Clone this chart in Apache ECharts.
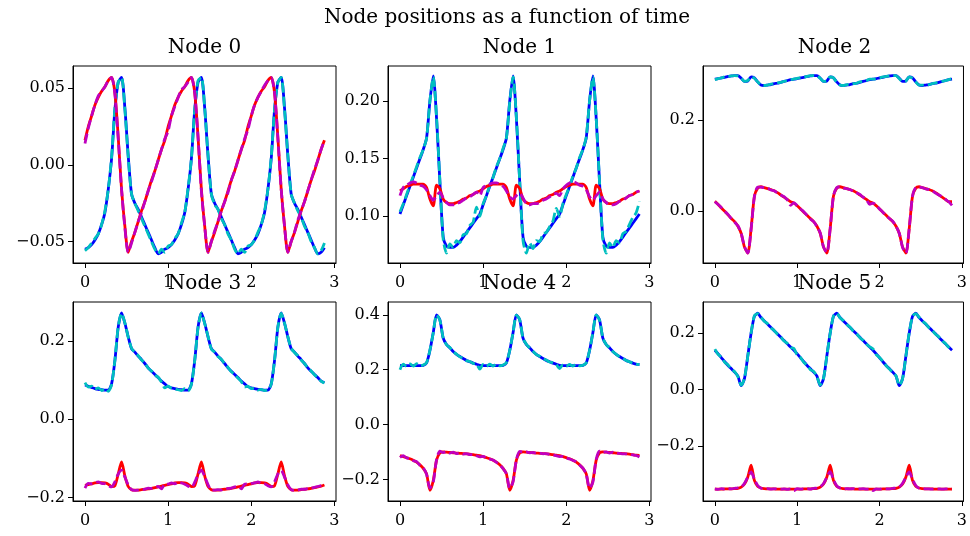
<!DOCTYPE html>
<html>
<head>
<meta charset="utf-8">
<script src="https://cdn.jsdelivr.net/npm/echarts@6/dist/echarts.min.js"></script>
<style>
html, body { margin: 0; padding: 0; background: #fff; }
#chart { width: 970px; height: 536px; }
</style>
</head>
<body>
<div id="chart"></div>
<script>
// time samples (s)
const t = [0,0.04,0.08,0.12,0.16,0.2,0.24,0.28,0.32,0.36,0.4,0.44,0.48,0.52,0.56,0.6,0.64,0.68,0.72,0.76,0.8,0.84,0.88,0.92,
  0.96,1,1.04,1.08,1.12,1.16,1.2,1.24,1.28,1.32,1.36,1.4,1.44,1.48,1.52,1.56,1.6,1.64,1.68,1.72,1.76,1.8,1.84,1.88,
  1.92,1.96,2,2.04,2.08,2.12,2.16,2.2,2.24,2.28,2.32,2.36,2.4,2.44,2.48,2.52,2.56,2.6,2.64,2.68,2.72,2.76,2.8,2.84,
  2.88];

// Node 0
const x0 = [-0.055,-0.054,-0.052,-0.049,-0.045,-0.039,-0.031,-0.016,0.004,0.036,0.054,0.057,0.037,0.006,-0.019,-0.025,-0.029,-0.034,-0.039,-0.044,-0.049,-0.054,-0.058,-0.057,
  -0.055,-0.054,-0.052,-0.049,-0.045,-0.039,-0.031,-0.016,0.004,0.036,0.054,0.057,0.037,0.006,-0.019,-0.025,-0.029,-0.034,-0.039,-0.044,-0.049,-0.054,-0.058,-0.057,
  -0.055,-0.054,-0.052,-0.049,-0.045,-0.039,-0.031,-0.016,0.004,0.036,0.054,0.057,0.037,0.006,-0.019,-0.025,-0.029,-0.034,-0.039,-0.044,-0.049,-0.054,-0.058,-0.057,
  -0.054];
const cx0 = [-0.056,-0.054,-0.051,-0.048,-0.045,-0.039,-0.030,-0.016,0.005,0.037,0.054,0.057,0.036,0.005,-0.019,-0.025,-0.030,-0.035,-0.040,-0.045,-0.050,-0.055,-0.058,-0.055,
  -0.057,-0.053,-0.052,-0.048,-0.045,-0.038,-0.031,-0.015,0.004,0.036,0.055,0.057,0.037,0.006,-0.019,-0.026,-0.029,-0.035,-0.039,-0.045,-0.049,-0.055,-0.058,-0.055,
  -0.057,-0.053,-0.052,-0.049,-0.044,-0.039,-0.030,-0.016,0.005,0.036,0.054,0.057,0.036,0.006,-0.019,-0.025,-0.030,-0.034,-0.040,-0.044,-0.050,-0.054,-0.058,-0.056,
  -0.051];
const y0 = [0.016,0.025,0.032,0.039,0.044,0.048,0.051,0.055,0.057,0.047,0.018,-0.016,-0.040,-0.057,-0.050,-0.044,-0.037,-0.030,-0.024,-0.017,-0.010,-0.004,0.003,0.010,
  0.016,0.025,0.032,0.039,0.044,0.048,0.051,0.055,0.057,0.047,0.018,-0.016,-0.040,-0.057,-0.050,-0.044,-0.037,-0.030,-0.024,-0.017,-0.010,-0.004,0.003,0.010,
  0.016,0.025,0.032,0.039,0.044,0.048,0.051,0.055,0.057,0.047,0.018,-0.016,-0.040,-0.057,-0.050,-0.044,-0.037,-0.030,-0.024,-0.017,-0.010,-0.004,0.003,0.010,
  0.016];
const my0 = [0.014,0.024,0.032,0.039,0.045,0.048,0.051,0.055,0.057,0.046,0.017,-0.016,-0.041,-0.057,-0.051,-0.044,-0.037,-0.031,-0.024,-0.017,-0.011,-0.004,0.003,0.010,
  0.017,0.022,0.032,0.038,0.044,0.049,0.051,0.054,0.057,0.047,0.018,-0.017,-0.040,-0.057,-0.050,-0.043,-0.037,-0.030,-0.024,-0.018,-0.010,-0.004,0.003,0.010,
  0.017,0.023,0.032,0.039,0.044,0.048,0.052,0.055,0.057,0.047,0.017,-0.016,-0.040,-0.057,-0.050,-0.044,-0.036,-0.030,-0.024,-0.017,-0.010,-0.003,0.003,0.010,
  0.016];

// Node 1
const x1 = [0.102,0.110,0.118,0.126,0.134,0.142,0.150,0.158,0.168,0.200,0.222,0.185,0.130,0.082,0.074,0.073,0.073,0.075,0.078,0.082,0.086,0.090,0.094,0.098,
  0.102,0.110,0.118,0.126,0.134,0.142,0.150,0.158,0.168,0.200,0.222,0.185,0.130,0.082,0.074,0.073,0.073,0.075,0.078,0.082,0.086,0.090,0.094,0.098,
  0.102,0.110,0.118,0.126,0.134,0.142,0.150,0.158,0.168,0.200,0.222,0.185,0.130,0.082,0.074,0.073,0.073,0.075,0.078,0.082,0.086,0.090,0.094,0.098,
  0.102];
const cx1 = [0.104,0.111,0.119,0.127,0.135,0.143,0.151,0.158,0.168,0.200,0.221,0.186,0.131,0.080,0.068,0.076,0.073,0.079,0.077,0.084,0.085,0.092,0.095,0.108,
  0.100,0.111,0.118,0.127,0.134,0.143,0.150,0.159,0.168,0.199,0.221,0.186,0.131,0.079,0.068,0.077,0.072,0.079,0.078,0.085,0.086,0.091,0.096,0.107,
  0.100,0.111,0.119,0.126,0.135,0.142,0.151,0.158,0.169,0.200,0.221,0.185,0.130,0.080,0.068,0.077,0.073,0.079,0.077,0.085,0.087,0.093,0.099,0.103,
  0.113];
const y1 = [0.122,0.124,0.126,0.127,0.128,0.128,0.128,0.128,0.125,0.115,0.109,0.127,0.124,0.115,0.112,0.111,0.111,0.112,0.113,0.115,0.116,0.118,0.119,0.121,
  0.122,0.124,0.126,0.127,0.128,0.128,0.128,0.128,0.125,0.115,0.109,0.127,0.124,0.115,0.112,0.111,0.111,0.112,0.113,0.115,0.116,0.118,0.119,0.121,
  0.122,0.124,0.126,0.127,0.128,0.128,0.128,0.128,0.125,0.115,0.109,0.127,0.124,0.115,0.112,0.111,0.111,0.112,0.113,0.115,0.116,0.118,0.119,0.121,
  0.122];
const my1 = [0.118,0.125,0.127,0.129,0.130,0.129,0.127,0.126,0.123,0.118,0.114,0.118,0.121,0.116,0.112,0.110,0.110,0.111,0.112,0.114,0.116,0.117,0.119,0.121,
  0.118,0.125,0.127,0.128,0.129,0.129,0.128,0.126,0.122,0.117,0.115,0.118,0.120,0.116,0.111,0.110,0.111,0.111,0.112,0.114,0.115,0.117,0.119,0.120,
  0.118,0.124,0.127,0.129,0.130,0.129,0.127,0.126,0.123,0.117,0.114,0.118,0.121,0.115,0.112,0.110,0.110,0.111,0.113,0.114,0.116,0.118,0.119,0.121,
  0.122];

// Node 2
const x2 = [0.290,0.291,0.293,0.294,0.296,0.297,0.298,0.298,0.292,0.285,0.286,0.295,0.293,0.284,0.277,0.276,0.277,0.278,0.280,0.281,0.283,0.285,0.287,0.289,
  0.290,0.291,0.293,0.294,0.296,0.297,0.298,0.298,0.292,0.285,0.286,0.295,0.293,0.284,0.277,0.276,0.277,0.278,0.280,0.281,0.283,0.285,0.287,0.289,
  0.290,0.291,0.293,0.294,0.296,0.297,0.298,0.298,0.292,0.285,0.286,0.295,0.293,0.284,0.277,0.276,0.277,0.278,0.280,0.281,0.283,0.285,0.287,0.289,
  0.290];
const cx2 = [0.289,0.291,0.293,0.295,0.296,0.297,0.298,0.297,0.292,0.285,0.287,0.295,0.292,0.284,0.277,0.276,0.277,0.279,0.280,0.282,0.283,0.285,0.287,0.289,
  0.290,0.292,0.293,0.294,0.296,0.298,0.298,0.297,0.292,0.285,0.286,0.295,0.293,0.283,0.277,0.276,0.278,0.278,0.280,0.281,0.284,0.285,0.287,0.290,
  0.290,0.291,0.293,0.295,0.296,0.297,0.298,0.298,0.291,0.285,0.286,0.295,0.292,0.284,0.277,0.277,0.277,0.278,0.280,0.282,0.283,0.285,0.287,0.289,
  0.291];
const y2 = [0.021,0.014,0.006,-0.001,-0.009,-0.017,-0.024,-0.034,-0.050,-0.080,-0.093,-0.040,0.032,0.050,0.053,0.051,0.049,0.047,0.044,0.040,0.035,0.030,0.025,0.020,
  0.017,0.011,0.004,-0.003,-0.010,-0.017,-0.024,-0.034,-0.050,-0.080,-0.093,-0.040,0.032,0.050,0.053,0.051,0.049,0.047,0.044,0.040,0.035,0.030,0.025,0.020,
  0.017,0.011,0.004,-0.003,-0.010,-0.017,-0.024,-0.034,-0.050,-0.080,-0.093,-0.040,0.032,0.050,0.053,0.051,0.049,0.047,0.044,0.040,0.035,0.030,0.025,0.020,
  0.020];
const my2 = [0.020,0.014,0.007,-0.001,-0.008,-0.017,-0.025,-0.033,-0.050,-0.079,-0.093,-0.041,0.031,0.052,0.052,0.051,0.050,0.046,0.044,0.039,0.035,0.031,0.024,0.012,
  0.018,0.011,0.004,-0.002,-0.010,-0.018,-0.024,-0.035,-0.049,-0.080,-0.092,-0.040,0.033,0.051,0.053,0.050,0.049,0.047,0.043,0.040,0.036,0.030,0.025,0.014,
  0.017,0.012,0.004,-0.003,-0.011,-0.017,-0.023,-0.034,-0.050,-0.081,-0.093,-0.039,0.032,0.051,0.052,0.051,0.048,0.047,0.044,0.039,0.035,0.031,0.025,0.020,
  0.012];

// Node 3
const x3 = [0.087,0.084,0.081,0.078,0.076,0.075,0.074,0.074,0.090,0.150,0.235,0.271,0.245,0.210,0.180,0.171,0.161,0.152,0.142,0.131,0.122,0.114,0.106,0.097,
  0.090,0.083,0.080,0.078,0.076,0.075,0.074,0.074,0.090,0.150,0.235,0.271,0.245,0.210,0.180,0.171,0.161,0.152,0.142,0.131,0.122,0.114,0.106,0.097,
  0.090,0.083,0.080,0.078,0.076,0.075,0.074,0.074,0.090,0.150,0.235,0.271,0.245,0.210,0.180,0.171,0.161,0.152,0.142,0.131,0.122,0.114,0.106,0.097,
  0.093];
const cx3 = [0.093,0.082,0.084,0.076,0.080,0.073,0.078,0.071,0.088,0.151,0.236,0.270,0.246,0.209,0.181,0.170,0.162,0.151,0.143,0.130,0.123,0.113,0.107,0.095,
  0.080,0.084,0.079,0.077,0.075,0.073,0.078,0.072,0.089,0.150,0.234,0.271,0.244,0.211,0.179,0.171,0.160,0.153,0.141,0.132,0.121,0.115,0.105,0.096,
  0.082,0.084,0.078,0.079,0.074,0.076,0.073,0.075,0.089,0.151,0.235,0.270,0.245,0.210,0.181,0.170,0.162,0.151,0.142,0.131,0.123,0.113,0.106,0.097,
  0.092];
const y3 = [-0.169,-0.167,-0.165,-0.163,-0.162,-0.162,-0.163,-0.166,-0.172,-0.170,-0.140,-0.109,-0.145,-0.172,-0.180,-0.181,-0.181,-0.180,-0.179,-0.178,-0.177,-0.175,-0.173,-0.171,
  -0.169,-0.167,-0.165,-0.163,-0.162,-0.162,-0.163,-0.166,-0.172,-0.170,-0.140,-0.109,-0.145,-0.172,-0.180,-0.181,-0.181,-0.180,-0.179,-0.178,-0.177,-0.175,-0.173,-0.171,
  -0.169,-0.167,-0.165,-0.163,-0.162,-0.162,-0.163,-0.166,-0.172,-0.170,-0.140,-0.109,-0.145,-0.172,-0.180,-0.181,-0.181,-0.180,-0.179,-0.178,-0.177,-0.175,-0.173,-0.171,
  -0.168];
const my3 = [-0.176,-0.164,-0.165,-0.162,-0.160,-0.164,-0.165,-0.170,-0.173,-0.160,-0.140,-0.130,-0.148,-0.168,-0.180,-0.182,-0.181,-0.180,-0.179,-0.176,-0.177,-0.174,-0.172,-0.178,
  -0.166,-0.166,-0.163,-0.165,-0.161,-0.163,-0.166,-0.171,-0.174,-0.161,-0.141,-0.130,-0.147,-0.167,-0.181,-0.181,-0.180,-0.181,-0.178,-0.177,-0.176,-0.173,-0.172,-0.178,
  -0.166,-0.165,-0.164,-0.163,-0.160,-0.164,-0.165,-0.170,-0.173,-0.160,-0.140,-0.131,-0.148,-0.168,-0.180,-0.182,-0.181,-0.179,-0.179,-0.177,-0.176,-0.174,-0.172,-0.170,
  -0.168];

// Node 4
const x4 = [0.216,0.215,0.215,0.215,0.215,0.215,0.215,0.216,0.225,0.270,0.335,0.400,0.382,0.315,0.292,0.280,0.266,0.256,0.248,0.241,0.234,0.229,0.224,0.220,
  0.216,0.215,0.215,0.215,0.215,0.215,0.215,0.216,0.225,0.270,0.335,0.400,0.382,0.315,0.292,0.280,0.266,0.256,0.248,0.241,0.234,0.229,0.224,0.220,
  0.216,0.215,0.215,0.215,0.215,0.215,0.215,0.216,0.225,0.270,0.335,0.400,0.382,0.315,0.292,0.280,0.266,0.256,0.248,0.241,0.234,0.229,0.224,0.220,
  0.219];
const cx4 = [0.200,0.220,0.212,0.221,0.213,0.222,0.214,0.217,0.226,0.271,0.334,0.400,0.381,0.316,0.291,0.281,0.265,0.257,0.247,0.242,0.233,0.230,0.223,0.221,
  0.202,0.219,0.212,0.220,0.213,0.221,0.214,0.217,0.226,0.270,0.336,0.399,0.383,0.314,0.293,0.279,0.267,0.255,0.249,0.240,0.235,0.228,0.225,0.219,
  0.204,0.218,0.212,0.219,0.213,0.221,0.214,0.216,0.225,0.271,0.335,0.400,0.381,0.316,0.292,0.280,0.266,0.256,0.247,0.241,0.234,0.229,0.224,0.220,
  0.219];
const y4 = [-0.113,-0.117,-0.121,-0.125,-0.130,-0.137,-0.147,-0.160,-0.180,-0.240,-0.205,-0.130,-0.103,-0.100,-0.101,-0.102,-0.103,-0.104,-0.105,-0.106,-0.107,-0.108,-0.110,-0.112,
  -0.113,-0.117,-0.121,-0.125,-0.130,-0.137,-0.147,-0.160,-0.180,-0.240,-0.205,-0.130,-0.103,-0.100,-0.101,-0.102,-0.103,-0.104,-0.105,-0.106,-0.107,-0.108,-0.110,-0.112,
  -0.113,-0.117,-0.121,-0.125,-0.130,-0.137,-0.147,-0.160,-0.180,-0.240,-0.205,-0.130,-0.103,-0.100,-0.101,-0.102,-0.103,-0.104,-0.105,-0.106,-0.107,-0.108,-0.110,-0.112,
  -0.113];
const my4 = [-0.120,-0.114,-0.122,-0.124,-0.132,-0.135,-0.149,-0.158,-0.182,-0.232,-0.210,-0.128,-0.097,-0.102,-0.099,-0.104,-0.101,-0.106,-0.104,-0.108,-0.106,-0.110,-0.109,-0.114,
  -0.118,-0.116,-0.123,-0.126,-0.129,-0.138,-0.146,-0.161,-0.179,-0.233,-0.209,-0.129,-0.098,-0.101,-0.100,-0.103,-0.102,-0.105,-0.104,-0.107,-0.106,-0.109,-0.110,-0.114,
  -0.117,-0.116,-0.122,-0.126,-0.131,-0.136,-0.148,-0.159,-0.181,-0.232,-0.210,-0.127,-0.097,-0.102,-0.100,-0.104,-0.101,-0.105,-0.105,-0.107,-0.107,-0.109,-0.111,-0.113,
  -0.118];

// Node 5
const x5 = [0.140,0.127,0.113,0.099,0.086,0.074,0.062,0.048,0.014,0.040,0.120,0.200,0.260,0.271,0.256,0.244,0.233,0.221,0.209,0.198,0.186,0.174,0.163,0.151,
  0.140,0.127,0.113,0.099,0.086,0.074,0.062,0.048,0.014,0.040,0.120,0.200,0.260,0.271,0.256,0.244,0.233,0.221,0.209,0.198,0.186,0.174,0.163,0.151,
  0.140,0.127,0.113,0.099,0.086,0.074,0.062,0.048,0.014,0.040,0.120,0.200,0.260,0.271,0.256,0.244,0.233,0.221,0.209,0.198,0.186,0.174,0.163,0.151,
  0.140];
const cx5 = [0.144,0.125,0.115,0.097,0.088,0.072,0.064,0.046,0.016,0.041,0.119,0.201,0.262,0.270,0.257,0.243,0.234,0.220,0.210,0.197,0.187,0.173,0.164,0.150,
  0.146,0.123,0.114,0.097,0.087,0.071,0.065,0.046,0.016,0.041,0.121,0.199,0.261,0.272,0.255,0.245,0.232,0.222,0.208,0.199,0.185,0.175,0.162,0.152,
  0.145,0.124,0.114,0.100,0.085,0.073,0.061,0.049,0.015,0.040,0.120,0.201,0.260,0.270,0.257,0.243,0.234,0.220,0.210,0.197,0.187,0.173,0.164,0.150,
  0.138];
const y5 = [-0.353,-0.353,-0.353,-0.352,-0.352,-0.352,-0.351,-0.350,-0.346,-0.335,-0.310,-0.268,-0.322,-0.343,-0.349,-0.351,-0.352,-0.352,-0.352,-0.353,-0.353,-0.353,-0.353,-0.353,
  -0.353,-0.353,-0.353,-0.352,-0.352,-0.352,-0.351,-0.350,-0.346,-0.335,-0.310,-0.268,-0.322,-0.343,-0.349,-0.351,-0.352,-0.352,-0.352,-0.353,-0.353,-0.353,-0.353,-0.353,
  -0.353,-0.353,-0.353,-0.352,-0.352,-0.352,-0.351,-0.350,-0.346,-0.335,-0.310,-0.268,-0.322,-0.343,-0.349,-0.351,-0.352,-0.352,-0.352,-0.353,-0.353,-0.353,-0.353,-0.353,
  -0.353];
const my5 = [-0.352,-0.354,-0.351,-0.353,-0.351,-0.352,-0.350,-0.348,-0.345,-0.332,-0.310,-0.292,-0.318,-0.340,-0.350,-0.352,-0.351,-0.353,-0.352,-0.351,-0.353,-0.352,-0.354,-0.352,
  -0.358,-0.351,-0.353,-0.352,-0.351,-0.353,-0.350,-0.349,-0.344,-0.333,-0.311,-0.291,-0.319,-0.341,-0.349,-0.353,-0.351,-0.352,-0.351,-0.353,-0.352,-0.351,-0.353,-0.352,
  -0.358,-0.352,-0.353,-0.351,-0.352,-0.352,-0.350,-0.348,-0.345,-0.332,-0.310,-0.292,-0.318,-0.340,-0.350,-0.351,-0.352,-0.352,-0.353,-0.351,-0.352,-0.353,-0.352,-0.352,
  -0.352];

const names = ['Node 0', 'Node 1', 'Node 2', 'Node 3', 'Node 4', 'Node 5'];
const xTicks = [0, 1, 2, 3];
const yTicks = [[-0.05, 0, 0.05], [0.10, 0.15, 0.20], [0.0, 0.2], [-0.2, 0.0, 0.2], [-0.2, 0.0, 0.2, 0.4], [-0.2, 0.0, 0.2]];
const yDigits = [2, 2, 1, 1, 1, 1];
const yRange = [[-0.064, 0.0645], [0.0595, 0.2305], [-0.115, 0.319], [-0.209, 0.299], [-0.279, 0.447], [-0.395, 0.311]];
const solidX = [x0, x1, x2, x3, x4, x5];
const dashX = [cx0, cx1, cx2, cx3, cx4, cx5];
const solidY = [y0, y1, y2, y3, y4, y5];
const dashY = [my0, my1, my2, my3, my4, my5];

const FONT = 'DejaVu Serif';
const lefts = [73, 388, 703];
const tops = [66, 302];
const W = 263, H = [197, 199];

const grids = [], xAxes = [], yAxes = [], titles = [], series = [];

titles.push({
  text: 'Node positions as a function of time',
  left: 507, top: 8, textAlign: 'center', padding: 0,
  textStyle: { fontFamily: FONT, fontSize: 20, fontWeight: 'normal', color: '#000' }
});

function fmt(v, d) {
  const s = Math.abs(v).toFixed(d);
  return v < -1e-9 ? '\u2212' + s : s;
}

for (let i = 0; i < 6; i++) {
  const row = Math.floor(i / 3), col = i % 3;
  grids.push({
    left: lefts[col], top: tops[row], width: W, height: H[row],
    show: true, borderColor: '#000', borderWidth: 1, backgroundColor: '#fff'
  });
  titles.push({
    text: names[i], left: lefts[col] + W / 2, top: tops[row] - 28, textAlign: 'center', padding: 0,
    textStyle: { fontFamily: FONT, fontSize: 20, fontWeight: 'normal', color: '#000' }
  });
  xAxes.push({
    type: 'value', gridIndex: i, min: -0.144, max: 3.019,
    axisLine: { show: true, onZero: false, lineStyle: { color: '#000', width: 1 } },
    axisTick: { show: true, length: 5, customValues: xTicks, lineStyle: { color: '#000' } },
    axisLabel: { customValues: xTicks, margin: 12, fontFamily: FONT, fontSize: 16, color: '#000', formatter: v => String(v) },
    splitLine: { show: false }
  });
  yAxes.push({
    type: 'value', gridIndex: i, min: yRange[i][0], max: yRange[i][1],
    axisLine: { show: true, onZero: false, lineStyle: { color: '#000', width: 1 } },
    axisTick: { show: true, length: 5, customValues: yTicks[i], lineStyle: { color: '#000' } },
    axisLabel: { customValues: yTicks[i], margin: 8, fontFamily: FONT, fontSize: 16, color: '#000', formatter: v => fmt(v, yDigits[i]) },
    splitLine: { show: false }
  });
  const lines = [
    [solidX[i], '#0000ff', 'solid'],
    [dashX[i], '#00bfbf', [10, 4]],
    [solidY[i], '#ff0000', 'solid'],
    [dashY[i], '#bf00bf', [10, 4]]
  ];
  lines.forEach(([arr, color, type]) => {
    series.push({
      type: 'line', xAxisIndex: i, yAxisIndex: i,
      data: t.map((tv, j) => [tv, arr[j]]),
      showSymbol: false, symbol: 'none', smooth: 0.25,
      lineStyle: { color: color, width: 2.8, type: type },
      emphasis: { disabled: true }
    });
  });
}

const chart = echarts.init(document.getElementById('chart'), null, { renderer: 'canvas' });
chart.setOption({
  animation: false,
  backgroundColor: '#fff',
  title: titles,
  grid: grids,
  xAxis: xAxes,
  yAxis: yAxes,
  series: series
});
</script>
</body>
</html>
